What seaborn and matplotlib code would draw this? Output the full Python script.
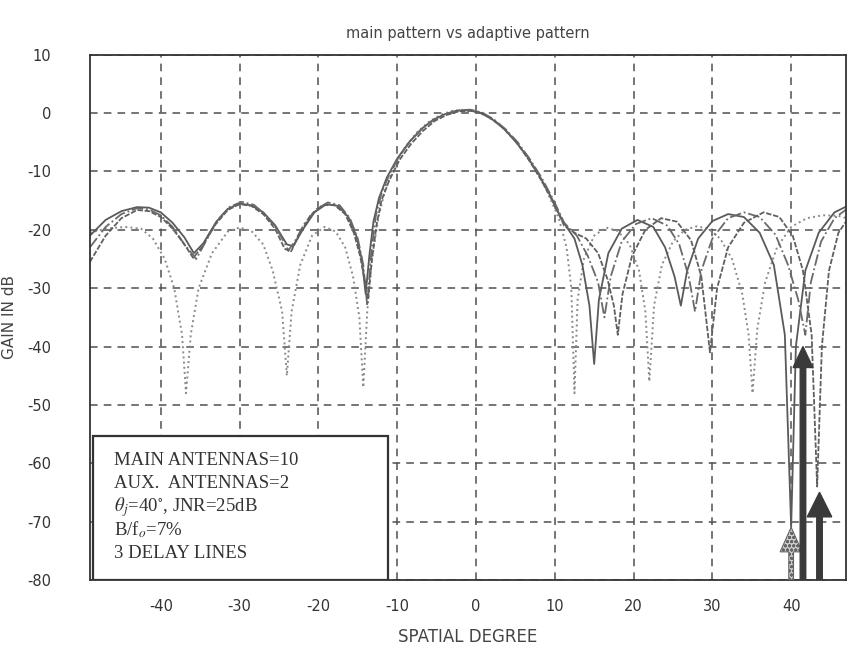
import matplotlib
matplotlib.use("Agg")
import matplotlib.pyplot as plt
import seaborn as sns
from matplotlib.patches import Rectangle

sns.set_style("white")
plt.rcParams["font.family"] = ["DejaVu Sans"]
plt.rcParams["mathtext.fontset"] = "stix"

# main (quiescent) pattern
main_deg = [-49, -47, -44.5, -42.5, -41, -39.5, -38.3, -37.3, -36.8, -36.2, -35.2, -33.5,
            -31.5, -30, -28.5, -27, -25.8, -24.6, -24, -23.4, -22.3, -20.8, -19.2, -17.8,
            -16.6, -15.6, -14.8, -14.3, -13.8, -13.2, -12.4, -11.5, -10.5, -9, -7.5, -6,
            -4.5, -3, -1.5, 0, 1.5, 3, 4.5, 6, 7.5, 9, 10.5, 11.5, 12.1, 12.5, 12.9, 13.7,
            15, 16.5, 18, 19.5, 20.7, 21.5, 22, 22.6, 23.6, 25, 26.5, 28, 29.5, 31, 32.5,
            33.8, 34.6, 35.1, 35.7, 36.7, 38.2, 40, 42, 44, 46, 47]
main_db = [-20.5, -19.8, -19.5, -19.8, -21.5, -25, -30, -38, -48, -38, -30, -24,
           -20.3, -19.6, -20.2, -22.5, -27, -34, -45, -34, -26, -21, -19.5, -20.3,
           -23, -28, -35, -47, -34, -25, -18, -13, -9.5, -5.8, -3.3, -1.5,
           -0.3, 0.4, 0.6, 0.3, -0.6, -2, -4, -6.5, -9.6, -13.3, -18, -23, -30, -48, -32, -25,
           -21, -19.6, -20.2, -22.5, -27, -34, -46, -33, -26, -22, -20, -19.4, -19.8, -21.5, -25,
           -31, -38, -48, -37, -29, -23, -19.5, -18, -17.5, -17.6, -18]

# adaptive patterns (three frequencies in the band)
ad1_deg = [-49, -47, -45, -43, -41.5, -40, -38.5, -37, -35.8, -34.6, -33, -31.5, -30, -28.5,
           -27, -25.5, -24, -23.2, -22, -20.5, -19, -17.5, -16.2, -15.2, -14.5, -14, -13.5,
           -13, -12.3, -11.3, -10, -8.5, -7, -5.5, -4, -2.5, -1, 0.5, 2, 3.5, 5, 6.5, 8, 9.5,
           11, 12.5, 13.5, 14.4, 15, 15.6, 16.8, 18.5, 20.5, 22.5, 24, 25.2, 26, 26.8, 28.2,
           30, 32, 34, 36, 37.8, 39.2, 40, 40.6, 41.8, 43.5, 45.5, 47]
ad1_db = [-21, -18.3, -16.8, -16.1, -16.2, -17, -18.8, -21.3, -24, -22.3, -18.7, -16.4, -15.5, -15.8,
          -17, -19.2, -22.5, -22.8, -20, -17, -15.6, -15.9, -17.8, -21, -25, -31, -24,
          -18.5, -14.5, -11, -7.8, -5, -2.8, -1.2, -0.2, 0.4, 0.5, 0.1, -1, -2.6, -4.8, -7.4, -10.6, -14.3,
          -18.5, -21.5, -26, -33, -43, -32, -24, -19.8, -18.3, -19.5, -23, -28, -33, -27, -21.5,
          -18.5, -17.3, -17.8, -20.5, -26, -38, -71, -40, -27, -20.5, -17, -16]

ad2_deg = [-49, -47, -45, -43, -41.5, -40, -38.5, -37, -35.5, -34.3, -32.8, -31.2, -29.7, -28.2,
           -26.8, -25.2, -23.8, -23, -21.8, -20.3, -18.8, -17.3, -16, -15, -14.3, -13.8, -13.3,
           -12.7, -12, -11, -9.7, -8.2, -6.7, -5.2, -3.7, -2.2, -0.7, 0.8, 2.3, 3.8, 5.3, 6.8,
           8.3, 9.8, 11.2, 12.8, 14.2, 15.5, 16.3, 17.1, 18.5, 20.3, 22.3, 24.3, 25.8, 27, 27.8,
           28.6, 30, 32, 34, 36, 38, 39.6, 40.9, 41.8, 42.5, 43.8, 45.5, 47]
ad2_db = [-23, -19.5, -17.3, -16.3, -16.5, -17.5, -19.5, -22.5, -25, -22, -18.3, -16, -15.2, -15.7,
          -17.3, -20, -23.5, -22, -19, -16.5, -15.3, -15.8, -18, -21.5, -26, -33, -24,
          -17.5, -13.8, -10.5, -7.3, -4.6, -2.5, -1, -0.1, 0.5, 0.6, 0.1, -1.1, -2.8, -5, -7.8,
          -11, -14.8, -18.8, -21, -24.5, -29, -35, -28, -22, -19, -18, -19.3, -22.5, -28, -34,
          -27, -21.5, -18, -17, -17.8, -20.8, -26, -32, -38, -29, -22, -18, -16.5]

ad3_deg = [-49, -47, -45, -43, -41.5, -40, -38.5, -37, -35.9, -34.8, -33.2, -31.5, -30, -28.5,
           -27, -25.5, -24.3, -23.5, -22.5, -21, -19.5, -18, -16.6, -15.5, -14.7, -14, -13.7,
           -13.2, -12.6, -12, -11, -9.7, -8.2, -6.7, -5.2, -3.7, -2.2, -0.7, 0.8, 2.3, 3.8, 5.3,
           6.8, 8.3, 9.8, 11.2, 12.5, 14, 15.5, 16.7, 17.5, 18, 18.6, 19.8, 21.5, 23.5, 25.5,
           27.3, 28.6, 29.7, 30.6, 32, 34, 36.5, 38.5, 40.2, 41.5, 42.6, 43.3, 43.9, 44.8, 46, 47]
ad3_db = [-25.5, -21, -18, -16.6, -16.8, -17.8, -19.8, -22.5, -24.8, -23, -19.3, -16.6, -15.6, -15.9,
          -17.3, -19.8, -23.2, -23.8, -21, -17.5, -15.8, -15.7, -17.3, -20.5, -24.5, -29.5, -32,
          -25, -19, -15, -11.5, -8, -5.2, -3, -1.3, -0.3, 0.3, 0.4, 0, -1.2, -3, -5.3,
          -8.2, -11.5, -15.3, -19.3, -20.5, -21.5, -24, -28.5, -33, -38, -31, -24.5, -20, -18, -18.6,
          -21.8, -28, -41, -30, -23, -18.8, -17, -17.8, -21, -27, -38, -64, -40, -27, -20.5, -18.5]

# jammer arrows
jam_deg = [40.0, 41.5, 43.6]
jam_db = [-71, -40, -65]

# parameter box lines
info_lines = ["MAIN ANTENNAS=10",
              "AUX.  ANTENNAS=2",
              r"$\theta_j$=40$^{\circ}$, JNR=25dB",
              r"B/f$_o$=7%",
              "3 DELAY LINES"]

fig = plt.figure(figsize=(8.48, 6.45), dpi=100)
ax = fig.add_axes([0.106, 0.101, 0.892, 0.814])

sns.lineplot(x=main_deg, y=main_db, ax=ax, color="#8a8a8a", lw=1.4, ls=":", estimator=None)
sns.lineplot(x=ad1_deg, y=ad1_db, ax=ax, color="#5a5a5a", lw=1.3, ls="-", estimator=None)
sns.lineplot(x=ad2_deg, y=ad2_db, ax=ax, color="#6a6a6a", lw=1.3, ls="-.", estimator=None)
sns.lineplot(x=ad3_deg, y=ad3_db, ax=ax, color="#606060", lw=1.3, ls=(0, (3, 1)), estimator=None)

# arrows
ax.arrow(jam_deg[0], -80, 0, jam_db[0] + 80, width=0.6, head_width=2.8, head_length=4.2,
         length_includes_head=True, fc="#d0d0d0", ec="#666666", hatch="oooo", lw=0.8, zorder=5)
ax.arrow(jam_deg[1], -80, 0, jam_db[1] + 80, width=0.7, head_width=2.5, head_length=3.6,
         length_includes_head=True, fc="#3a3a3a", ec="#3a3a3a", zorder=5)
ax.arrow(jam_deg[2], -80, 0, jam_db[2] + 80, width=0.7, head_width=3.1, head_length=4.2,
         length_includes_head=True, fc="#3a3a3a", ec="#3a3a3a", zorder=5)

ax.set_xlim(-49, 47)
ax.set_ylim(-80, 10)
xt = [-40, -30, -20, -10, 0, 10, 20, 30, 40]
yt = [10, 0, -10, -20, -30, -40, -50, -60, -70, -80]
ax.set_xticks(xt)
ax.set_xticklabels([str(v) for v in xt], fontsize=10.5, color="#333333")
ax.set_yticks(yt)
ax.set_yticklabels([str(v) for v in yt], fontsize=10.5, color="#333333")
ax.tick_params(axis="x", length=0, pad=14)
ax.tick_params(axis="y", length=0, pad=28)

ax.grid(True, ls=(0, (5, 4)), color="#505050", lw=1.1)
ax.set_axisbelow(True)
for s in ax.spines.values():
    s.set_color("#333333")
    s.set_linewidth(1.3)

ax.set_title("main pattern vs adaptive pattern", fontsize=10.5, color="#444444", pad=12)
ax.set_xlabel("SPATIAL DEGREE", fontsize=12, color="#444444", labelpad=10)
ax.set_ylabel("GAIN IN dB", fontsize=11, color="#444444", labelpad=7)

# parameter box
ax.add_patch(Rectangle((-48.6, -80), 37.4, 24.6, fc="white", ec="#333333", lw=1.6, zorder=4))
for i, line in enumerate(info_lines):
    ax.text(-46.0, -59.6 - 3.95 * i, line, fontsize=13.5, family="Liberation Serif",
            color="#333333", va="center", ha="left", zorder=6)

fig.savefig("out.png", dpi=100)
